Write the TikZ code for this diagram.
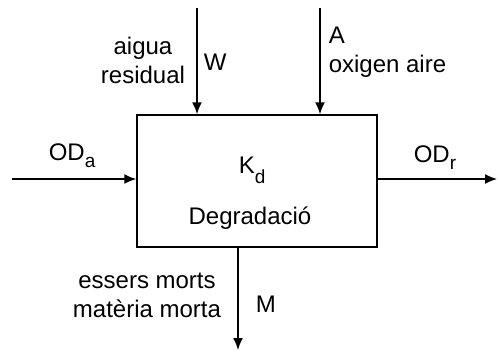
\documentclass[tikz,border=0pt]{standalone}
\usepackage{fontspec}
\setmainfont{Liberation Sans}
\usetikzlibrary{arrows.meta,positioning}
\tikzset{every picture/.style={line width=1.5pt}}
\newcommand{\subind}[1]{\raisebox{-0.3em}{\fontsize{19}{19}\selectfont #1}}

\begin{document}
\begin{tikzpicture}[x=1pt,y=-1pt,
    flux/.style={-{Latex[length=12pt,width=10pt]}},
    etiq/.style={inner sep=0pt,font=\fontsize{24}{29}\selectfont}]
    \useasboundingbox (0,0) rectangle (499,354);

    % === Caixa: degradacio ===
    \node[draw,minimum width=240pt,minimum height=132pt,inner sep=0pt] (caixa) at (257,181) {};
    \node[etiq,anchor=base west] (kd) at (238,173) {K\raisebox{-0.45em}{\fontsize{19}{19}\selectfont d}};
    \node[etiq,anchor=base] (degr) at (250,224) {Degradació};

    % Entrades superiors
    \coordinate (wtop) at (197,8);
    \coordinate (atop) at (320,8);
    \draw[flux] (wtop) -- (wtop |- caixa.north);
    \draw[flux] (atop) -- (atop |- caixa.north);
    \node[etiq,align=center,anchor=base] (aigua) at (143,83) {aigua\\residual};
    \node[etiq,anchor=base west] (w) at (203,70) {W};
    \node[etiq,anchor=base west] (a) at (328,43) {A};
    \node[etiq,anchor=base west] (oxigen) at (328,72) {oxigen aire};

    % Entrada i sortida horitzontals
    \coordinate (odain) at (12,179);
    \coordinate (odrout) at (497,179);
    \draw[flux] (odain) -- (odain -| caixa.west);
    \draw[flux] (odain -| caixa.east) -- (odrout);
    \node[etiq,anchor=base west] (oda) at (48,160) {OD\subind{a}};
    \node[etiq,anchor=base west] (odr) at (413,162) {OD\subind{r}};

    % Sortida inferior
    \coordinate (mout) at (238,350);
    \draw[flux] (mout |- caixa.south) -- (mout);
    \node[etiq,align=center,anchor=base] (morts) at (147,317) {essers morts\\matèria morta};
    \node[etiq,anchor=base west] (m) at (255,312) {M};
\end{tikzpicture}
\end{document}
